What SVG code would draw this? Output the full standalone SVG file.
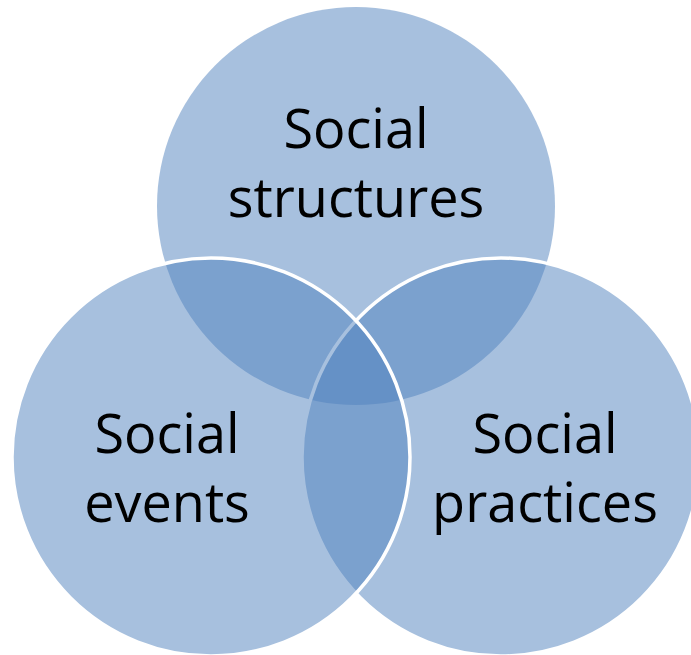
<svg xmlns="http://www.w3.org/2000/svg" width="691" height="655" viewBox="0 0 691 655">
<style>
.c{fill:#4F81BD;fill-opacity:0.5}
.s{stroke:#FFFFFF;stroke-width:3.5}
.t{font-family:"Open Sans","Noto Sans",sans-serif;font-size:54px;fill:#000000;text-anchor:middle}
</style>
<rect width="691" height="655" fill="#FFFFFF"/>
<g id="structures">
<circle class="c" cx="356" cy="206" r="199"/>
</g>
<g id="practices">
<circle class="c s" cx="501" cy="457" r="199"/>
</g>
<g id="events">
<circle class="c s" cx="211" cy="457" r="199"/>
</g>
<g id="labels">
<text class="t" x="356" y="148">Social</text>
<text class="t" x="356" y="217">structures</text>
<text class="t" x="167" y="453">Social</text>
<text class="t" x="167" y="522">events</text>
<text class="t" x="545" y="453">Social</text>
<text class="t" x="545" y="522">practices</text>
</g>
</svg>
